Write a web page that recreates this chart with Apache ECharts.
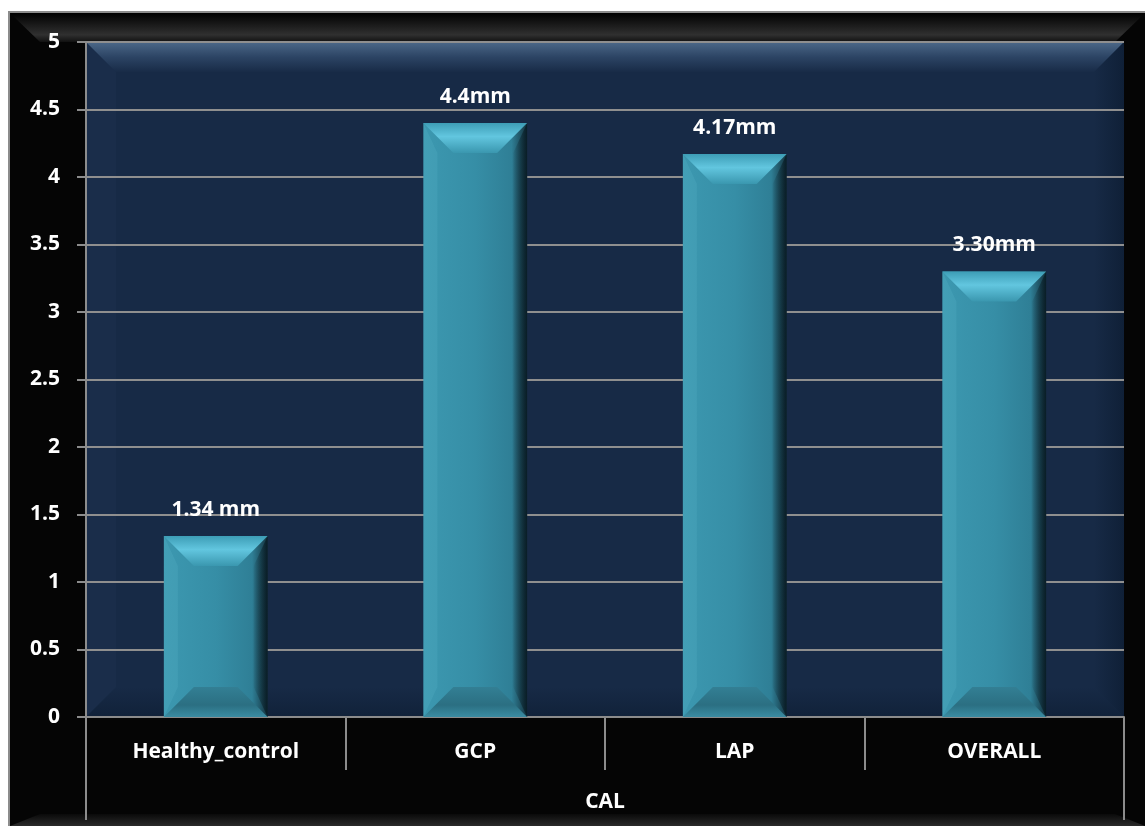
<!DOCTYPE html>
<html>
<head>
<meta charset="utf-8">
<script src="https://cdn.jsdelivr.net/npm/echarts@6/dist/echarts.min.js"></script>
<style>
  html, body { margin: 0; padding: 0; background: #fff; }
  #chart { width: 1145px; height: 826px; }
</style>
</head>
<body>
<div id="chart"></div>
<script>
  // data
  var categories = ['Healthy_control', 'GCP', 'LAP', 'OVERALL']
  var values = [1.34, 4.4, 4.17, 3.30]
  var valueLabels = ['1.34 mm', '4.4mm', '4.17mm', '3.30mm']
  var groupName = ['CAL']

  var chart = echarts.init(document.getElementById('chart'))

  var font = '"Open Sans", "Noto Sans", sans-serif'

  function renderBar(params, api) {
    var idx = api.value(0)
    var top = api.coord([idx, api.value(1)])
    var base = api.coord([idx, 0])
    var w = api.size([1, 0])[0] * 0.4
    var x0 = top[0] - w / 2, x1 = top[0] + w / 2
    var y0 = top[1], y1 = base[1]
    var b = Math.min(30, (y1 - y0) / 2, w / 2)
    var side = 14
    return {
      type: 'group',
      children: [
        // face
        { type: 'rect', shape: { x: x0, y: y0, width: w, height: y1 - y0 },
          style: { fill: new echarts.graphic.LinearGradient(0, 0, 1, 0, [
            { offset: 0, color: '#3c98b0' }, { offset: 0.5, color: '#368ea6' },
            { offset: 0.85, color: '#2f7f96' }, { offset: 1, color: '#14323e' }]) } },
        // left side
        { type: 'polygon', shape: { points: [[x0, y0], [x0 + side, y0 + b], [x0 + side, y1 - b], [x0, y1]] },
          style: { fill: 'rgba(120,210,230,0.12)' } },
        // right side
        { type: 'polygon', shape: { points: [[x1, y0], [x1 - side, y0 + b], [x1 - side, y1 - b], [x1, y1]] },
          style: { fill: new echarts.graphic.LinearGradient(0, 0, 1, 0, [
            { offset: 0, color: 'rgba(10,30,40,0.05)' }, { offset: 1, color: 'rgba(5,20,28,0.7)' }]) } },
        // top bevel
        { type: 'polygon', shape: { points: [[x0, y0], [x1, y0], [x1 - b, y0 + b], [x0 + b, y0 + b]] },
          style: { fill: new echarts.graphic.LinearGradient(0, 0, 0, 1, [
            { offset: 0, color: '#3d9db6' }, { offset: 0.45, color: '#62c6df' }, { offset: 1, color: '#3a97af' }]) } },
        // bottom bevel
        { type: 'polygon', shape: { points: [[x0, y1], [x1, y1], [x1 - b, y1 - b], [x0 + b, y1 - b]] },
          style: { fill: new echarts.graphic.LinearGradient(0, 0, 0, 1, [
            { offset: 0, color: '#337f94' }, { offset: 0.6, color: '#2b6f82' }, { offset: 1, color: '#3a8ca2' }]) } },
        // label
        { type: 'text', x: top[0], y: y0 - 26,
          style: { text: valueLabels[idx], fill: '#fff', font: 'bold 21px ' + font,
            align: 'center', verticalAlign: 'middle' } }
      ]
    }
  }

  var L = 86, T = 42, R = 1124, B = 717

  var option = {
    backgroundColor: '#fff',
    animation: false,
    graphic: [
      // outer frame
      { type: 'rect', z: -10, shape: { x: 9, y: 12, width: 1140, height: 820 },
        style: { fill: '#050505', stroke: '#8c8c8c', lineWidth: 2 } },
      // frame top bevel
      { type: 'polygon', z: -9, shape: { points: [[10, 13], [1145, 13], [1115, 42], [40, 42]] },
        style: { fill: new echarts.graphic.LinearGradient(0, 0, 0, 1, [
          { offset: 0, color: '#000' }, { offset: 0.75, color: '#303030' }, { offset: 1, color: '#111' }]) } },
      // frame bottom
      { type: 'polygon', z: -9, shape: { points: [[10, 826], [40, 814], [1115, 814], [1145, 826]] },
        style: { fill: new echarts.graphic.LinearGradient(0, 0, 0, 1, [
          { offset: 0, color: '#0a0a0a' }, { offset: 1, color: '#2a2a2a' }]) } },
      // plot wall
      { type: 'rect', z: -8, shape: { x: L, y: T, width: R - L, height: B - T },
        style: { fill: '#172a46' } },
      { type: 'polygon', z: -7, shape: { points: [[L, T], [R, T], [R - 30, T + 30], [L + 30, T + 30]] },
        style: { fill: new echarts.graphic.LinearGradient(0, 0, 0, 1, [
          { offset: 0, color: '#4c6888' }, { offset: 0.5, color: '#2c4464' }, { offset: 1, color: '#182b47' }]) } },
      { type: 'polygon', z: -7, shape: { points: [[L, T], [L + 30, T + 30], [L + 30, B - 30], [L, B]] },
        style: { fill: 'rgba(90,120,160,0.05)' } },
      { type: 'polygon', z: -7, shape: { points: [[R, T], [R - 30, T + 30], [R - 30, B - 30], [R, B]] },
        style: { fill: new echarts.graphic.LinearGradient(0, 0, 1, 0, [
          { offset: 0, color: 'rgba(10,25,45,0)' }, { offset: 1, color: 'rgba(10,25,45,0.6)' }]) } },
      { type: 'polygon', z: -7, shape: { points: [[L, B], [L + 30, B - 30], [R - 30, B - 30], [R, B]] },
        style: { fill: new echarts.graphic.LinearGradient(0, 0, 0, 1, [
          { offset: 0, color: 'rgba(14,30,52,0)' }, { offset: 1, color: 'rgba(14,30,52,0.7)' }]) } }
    ],
    grid: { left: L, top: T, right: 1145 - R, bottom: 826 - B, containLabel: false },
    xAxis: [
      {
        type: 'category', data: categories, position: 'bottom',
        axisLine: { lineStyle: { color: '#8c8c8c', width: 2 } },
        axisTick: { show: true, length: 53, alignWithLabel: false, lineStyle: { color: '#8c8c8c', width: 2 } },
        axisLabel: { color: '#fff', fontWeight: 'bold', fontSize: 21, fontFamily: font, margin: 25 }
      },
      {
        type: 'category', data: groupName, position: 'bottom',
        axisLine: { show: false },
        axisTick: { show: true, length: 103, lineStyle: { color: '#8c8c8c', width: 2 } },
        axisLabel: { color: '#fff', fontWeight: 'bold', fontSize: 21, fontFamily: font, margin: 75 }
      }
    ],
    yAxis: {
      type: 'value', min: 0, max: 5, interval: 0.5,
      axisLine: { show: true, lineStyle: { color: '#8c8c8c', width: 2 } },
      axisTick: { show: true, length: 9, lineStyle: { color: '#8c8c8c', width: 2 } },
      axisLabel: { color: '#fff', fontWeight: 'bold', fontSize: 21, fontFamily: font, margin: 26 },
      splitLine: { lineStyle: { color: '#8f8f8f', width: 2 } }
    },
    series: [
      {
        type: 'custom',
        renderItem: renderBar,
        encode: { x: 0, y: 1 },
        data: values.map(function (v, i) { return [i, v] })
      }
    ]
  }

  chart.setOption(option)
  window.addEventListener('resize', function () {
    chart.resize()
  })
</script>
</body>
</html>
